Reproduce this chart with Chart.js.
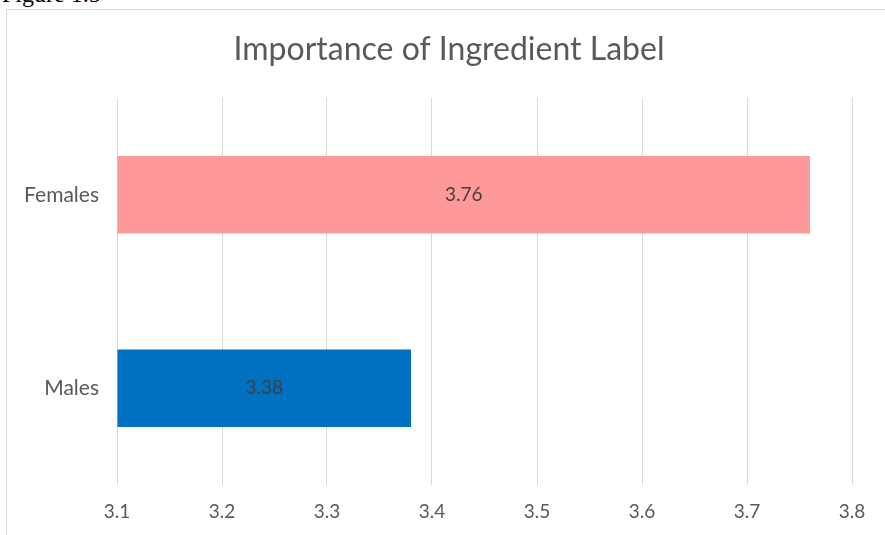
<!DOCTYPE html>
<html>
<head>
<meta charset="utf-8">
<script src="https://cdn.jsdelivr.net/npm/chart.js@4"></script>
<style>
  body { margin: 0; background: #fff; width: 885px; height: 535px; overflow: hidden; position: relative; }
  #legenda { position: absolute; left: 2px; top: -18px; font: 24px "Liberation Serif", serif; line-height: 24px; color: #000; }
  #quadro { position: absolute; left: 6px; top: 9px; width: 900px; height: 540px; border-left: 1px solid #d9d9d9; border-top: 1px solid #d9d9d9; }
  #grafico { position: absolute; left: 7px; top: 10px; }
</style>
</head>
<body>
<div id="legenda">Figure 1.5</div>
<div id="quadro"></div>
<canvas id="grafico" width="884" height="525"></canvas>
<script>
// Dados do gráfico
const titulo = 'Importance of Ingredient Label';
const categorias = ['Females', 'Males'];
const valores = [3.76, 3.38];
const cores = ['#ff9999', '#0070c0'];
const ticksX = [3.1, 3.2, 3.3, 3.4, 3.5, 3.6, 3.7, 3.8];

const fonte = 'Lato, "Open Sans", sans-serif';
const cinza = '#595959';

// Título centrado na largura total do canvas
const tituloCentrado = {
    id: 'tituloCentrado',
    afterDraw(chart) {
        const ctx = chart.ctx;
        ctx.save();
        ctx.font = '32px ' + fonte;
        ctx.fillStyle = cinza;
        ctx.textAlign = 'center';
        ctx.textBaseline = 'middle';
        ctx.fillText(titulo, chart.width / 2, 40);
        ctx.restore();
    }
};

// Escreve o valor no meio de cada barra
const rotulosValores = {
    id: 'rotulosValores',
    afterDatasetsDraw(chart) {
        const ctx = chart.ctx;
        const meta = chart.getDatasetMeta(0);
        ctx.save();
        ctx.font = '19px ' + fonte;
        ctx.fillStyle = '#404040';
        ctx.textAlign = 'center';
        ctx.textBaseline = 'middle';
        meta.data.forEach((barra, i) => {
            const centroX = (barra.x + barra.base) / 2;
            ctx.fillText(valores[i].toFixed(2), centroX, barra.y);
        });
        ctx.restore();
    }
};

const config = {
    type: 'bar',
    data: {
        labels: categorias,
        datasets: [{
            label: titulo,
            data: valores,
            backgroundColor: cores,
            barPercentage: 0.4,
            categoryPercentage: 1.0,
            base: 3.1
        }]
    },
    options: {
        indexAxis: 'y',
        responsive: false,
        animation: false,
        layout: { padding: { top: 88, right: 39, bottom: 0, left: 0 } },
        plugins: {
            legend: { display: false },
            tooltip: { enabled: false },
            title: { display: false }
        },
        scales: {
            x: {
                min: 3.1,
                max: 3.8,
                afterBuildTicks(escala) {
                    escala.ticks = ticksX.map(v => ({ value: v }));
                },
                afterFit(escala) { escala.height = 50; },
                grid: { color: '#d9d9d9', lineWidth: 1, drawTicks: false },
                border: { display: false },
                ticks: {
                    color: cinza,
                    padding: 15,
                    font: { family: fonte, size: 19 },
                    callback: v => v.toFixed(1)
                }
            },
            y: {
                afterFit(escala) { escala.width = 110; },
                grid: { display: false, drawTicks: false },
                border: { display: false },
                ticks: {
                    color: cinza,
                    padding: 18,
                    font: { family: fonte, size: 21 }
                }
            }
        }
    },
    plugins: [rotulosValores, tituloCentrado]
};

new Chart(document.getElementById('grafico').getContext('2d'), config);
</script>
</body>
</html>
